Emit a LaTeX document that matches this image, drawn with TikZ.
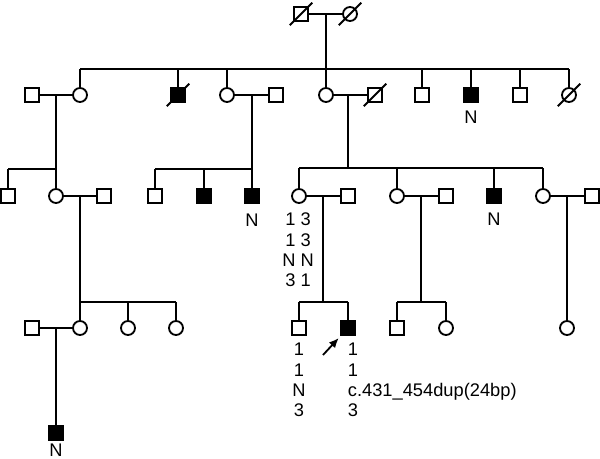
\documentclass[tikz,border=0pt]{standalone}
\usepackage{fontspec}
\setmainfont{Liberation Sans}
\usetikzlibrary{arrows.meta}

\begin{document}
\begin{tikzpicture}[x=0.025cm,y=-0.025cm,line width=1.3pt]
	\tikzstyle{Male}=[draw,rectangle,minimum size=0.35cm,inner sep=0pt,fill=white]
	\tikzstyle{Female}=[draw,circle,minimum size=0.35cm,inner sep=0pt,fill=white]
	\tikzstyle{Affected}=[fill=black]
	\tikzstyle{Label}=[inner sep=0pt,font=\fontsize{13}{14.5}\selectfont]
	\useasboundingbox (0,0) rectangle (600,459);
	% generation I
	\node[Male] (I1) at (301,14) {};
	\node[Female] (I2) at (350,14) {};
	% generation II
	\node[Male] (II1) at (32,95) {};
	\node[Female] (II2) at (80,95) {};
	\node[Male,Affected] (II3) at (178,95) {};
	\node[Female] (II4) at (227,95) {};
	\node[Male] (II5) at (276,95) {};
	\node[Female] (II6) at (326,95) {};
	\node[Male] (II7) at (375,95) {};
	\node[Male] (II8) at (422,95) {};
	\node[Male,Affected] (II9) at (471,95) {};
	\node[Male] (II10) at (520,95) {};
	\node[Female] (II11) at (569,95) {};
	% generation III
	\node[Male] (III1) at (8,196) {};
	\node[Female] (III2) at (56,196) {};
	\node[Male] (III3) at (104,196) {};
	\node[Male] (III4) at (155,196) {};
	\node[Male,Affected] (III5) at (204,196) {};
	\node[Male,Affected] (III6) at (252,196) {};
	\node[Female] (III7) at (299,196) {};
	\node[Male] (III8) at (348,196) {};
	\node[Female] (III9) at (397,196) {};
	\node[Male] (III10) at (446,196) {};
	\node[Male,Affected] (III11) at (494,196) {};
	\node[Female] (III12) at (543,196) {};
	\node[Male] (III13) at (592,196) {};
	% generation IV
	\node[Male] (IV0) at (32,328) {};
	\node[Female] (IV1) at (80,328) {};
	\node[Female] (IV2) at (128,328) {};
	\node[Female] (IV3) at (176,328) {};
	\node[Male] (IV4) at (299,328) {};
	\node[Male,Affected] (IV5) at (348,328) {};
	\node[Male] (IV6) at (397,328) {};
	\node[Female] (IV7) at (446,328) {};
	\node[Female] (IV8) at (567,328) {};
	% generation V
	\node[Male,Affected] (V1) at (56,433) {};

	% couples and where their line of descent starts
	\foreach \a/\b in {I1/I2,II1/II2,II4/II5,II6/II7,III2/III3,III7/III8,III9/III10,III12/III13,IV0/IV1}
		\draw (\a) -- (\b);
	\coordinate (m0) at (326,14);   \coordinate (s0) at (326,69);
	\coordinate (m1) at (56,95);    \coordinate (s1) at (56,169);
	\coordinate (m2) at (252,95);   \coordinate (s2) at (252,169);
	\coordinate (m3) at (348,95);   \coordinate (s3) at (348,168);
	\coordinate (m4) at (80,196);   \coordinate (s4) at (80,302);
	\coordinate (m5) at (323,196);  \coordinate (s5) at (323,302);
	\coordinate (m6) at (421,196);  \coordinate (s6) at (421,302);
	\coordinate (m7) at (567,196);
	\coordinate (m8) at (56,328);
	\foreach \m/\s in {m0/s0,m1/s1,m2/s2,m3/s3,m4/s4,m5/s5,m6/s6}
		\draw (\m) -- (\s);
	\draw (m7) -- (IV8);
	\draw (m8) -- (V1);

	% sibships
	\draw (II2 |- s0) -- (II11 |- s0);
	\foreach \c in {II2,II3,II4,II6,II8,II9,II10,II11}
		\draw (\c) -- (\c |- s0);
	\draw (III1 |- s1) -- (III2 |- s1);
	\foreach \c in {III1,III2}
		\draw (\c) -- (\c |- s1);
	\draw (III4 |- s2) -- (III6 |- s2);
	\foreach \c in {III4,III5,III6}
		\draw (\c) -- (\c |- s2);
	\draw (III7 |- s3) -- (III12 |- s3);
	\foreach \c in {III7,III9,III11,III12}
		\draw (\c) -- (\c |- s3);
	\draw (IV1 |- s4) -- (IV3 |- s4);
	\foreach \c in {IV1,IV2,IV3}
		\draw (\c) -- (\c |- s4);
	\draw (IV4 |- s5) -- (IV5 |- s5);
	\foreach \c in {IV4,IV5}
		\draw (\c) -- (\c |- s5);
	\draw (IV6 |- s6) -- (IV7 |- s6);
	\foreach \c in {IV6,IV7}
		\draw (\c) -- (\c |- s6);

	% deceased
	\foreach \c in {I1,I2,II3,II7,II11}
		\draw (\c.center) +(-8pt,-8pt) -- +(8pt,8pt);

	% proband
	\coordinate (arr) at (323,355);
	\draw[-{Latex[length=7pt,width=6pt]},shorten >=2pt] (arr) -- (IV5);

	% haplotypes
	\node[Label] (nII9) at (471,117) {N};
	\node[Label] (nIII6) at (252,220) {N};
	\node[Label] (nIII11) at (494,219) {N};
	\node[Label] (nV1) at (56,450) {N};
	\node[Label,align=center] (hIII7) at (298,250) {1 3\\1 3\\N N\\3 1};
	\node[Label,align=center] (hIV4) at (299,380) {1\\1\\N\\3};
	\node[Label,align=left,anchor=west] (hIV5) at (347,380) {1\\1\\c.431\_454dup(24bp)\\3};
\end{tikzpicture}
\end{document}
